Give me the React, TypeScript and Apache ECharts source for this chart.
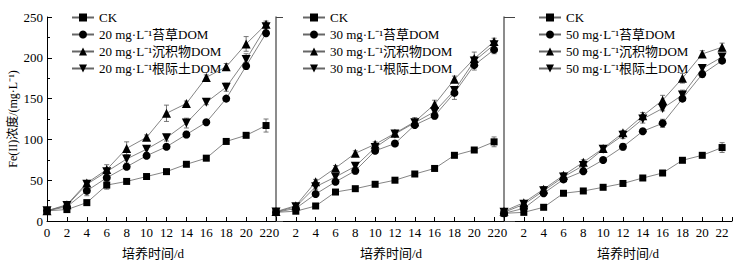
import React, { useEffect, useRef } from "react";
import * as echarts from "echarts";

const days = [0, 2, 4, 6, 8, 10, 12, 14, 16, 18, 20, 22];
const doses = ["20", "30", "50"];
const xAxisTitle = "培养时间/d";
const yAxisTitle = "Fe(II)浓度/(mg·L⁻¹)";
const treatmentNames = ["苔草DOM", "沉积物DOM", "根际土DOM"];

// Panel 1: 20 mg/L
const p1CK = [12.5, 14, 22.5, 44, 48.5, 54.5, 60.5, 69.5, 77, 97.5, 105, 117];
const p1Moss = [12.5, 17.5, 37, 53, 66.5, 80, 91, 106, 121, 150, 190, 230];
const p1Sed = [12.5, 20, 46.5, 63, 89, 102.5, 132, 144, 176, 189, 217, 241];
const p1Rhizo = [12.5, 19, 45, 60.5, 76, 88, 102, 120, 145.5, 164, 198, 238];
// Panel 2: 30 mg/L
const p2CK = [10.6, 12, 18.4, 35.5, 39.6, 45, 50, 57.6, 64.4, 80.5, 87, 97];
const p2Moss = [10.6, 15.5, 33, 48, 61.6, 86, 95, 117.6, 129, 157, 191, 210];
const p2Sed = [11.5, 18.8, 48, 65, 83, 94, 107.5, 121.7, 143, 173.6, 199, 220];
const p2Rhizo = [11, 17.5, 42, 54, 67, 90, 106.6, 120.5, 134, 160, 196, 216];
// Panel 3: 50 mg/L
const p3CK = [9.4, 10.6, 16.8, 34, 36.8, 41.3, 46, 52.7, 58.8, 74.4, 80.5, 90];
const p3Moss = [9.4, 15.5, 34, 51, 61, 74.8, 91, 110, 119.7, 150, 180, 196.5];
const p3Sed = [12, 22.5, 39, 56, 72, 89, 108, 129, 148, 175, 204.7, 213];
const p3Rhizo = [10.6, 20.4, 37, 54, 68, 88, 105, 125, 138, 154.4, 187, 201];

// error bar half-widths
const e1CK = [1, 1, 3, 5, 2, 2, 2, 2, 3, 2, 2, 8];
const e1Moss = [1, 2, 6, 4, 3, 3, 2, 4, 3, 3, 4, 3];
const e1Sed = [1, 2, 3, 6, 8, 3, 10, 3, 3, 4, 9, 4];
const e1Rhizo = [1, 2, 3, 4, 5, 4, 4, 6, 3, 5, 7, 4];
const e2CK = [1, 1, 2, 3, 2, 2, 2, 2, 2, 2, 2, 6];
const e2Moss = [1, 2, 3, 3, 4, 3, 2, 3, 4, 8, 6, 5];
const e2Sed = [1, 2, 3, 3, 3, 3, 3, 5, 5, 4, 8, 4];
const e2Rhizo = [1, 2, 3, 3, 4, 3, 3, 4, 3, 4, 5, 4];
const e3CK = [1, 1, 2, 3, 2, 2, 2, 2, 2, 2, 2, 6];
const e3Moss = [1, 2, 3, 3, 3, 3, 4, 3, 5, 3, 4, 3];
const e3Sed = [1, 2, 3, 3, 3, 3, 3, 4, 6, 6, 4, 5];
const e3Rhizo = [1, 2, 5, 3, 3, 4, 4, 5, 3, 6, 4, 4];

const panelValues = [
  [p1CK, p1Moss, p1Sed, p1Rhizo],
  [p2CK, p2Moss, p2Sed, p2Rhizo],
  [p3CK, p3Moss, p3Sed, p3Rhizo],
];
const panelErrors = [
  [e1CK, e1Moss, e1Sed, e1Rhizo],
  [e2CK, e2Moss, e2Sed, e2Rhizo],
  [e3CK, e3Moss, e3Sed, e3Rhizo],
];

const FONT = "'Liberation Serif', 'Times New Roman', 'Noto Sans CJK SC', serif";
const symbols = ["rect", "circle", "triangle", "path://M0,0 L10,0 L5,8.66 Z"];
const symbolSizes = [7, 8, 9, 9];

const gridsLayout = [
  { left: 47, width: 229 },
  { left: 276, width: 228 },
  { left: 504, width: 228 },
];
const legendLeft = [66, 297, 533];
const xTitleCenters = [152, 390, 627];

function seriesName(p: number, s: number) {
  if (s === 0) return "CK";
  return `${doses[p]} mg·L⁻¹${treatmentNames[s - 1]}`;
}

export default function App() {
  const ref = useRef<HTMLDivElement>(null);
  useEffect(() => {
    if (!ref.current) return;
    const chart = echarts.init(ref.current, undefined, { renderer: "svg" });

    const grid = gridsLayout.map((g) => ({ left: g.left, width: g.width, top: 17, height: 204 }));
    const xAxis = [0, 1, 2].map((i) => ({
      type: "value",
      gridIndex: i,
      min: 0,
      max: 23,
      interval: 2,
      axisLine: { show: true, lineStyle: { color: "#000", width: 1 } },
      axisTick: { show: true, inside: true, length: 4, lineStyle: { color: "#000" } },
      axisLabel: {
        color: "#000",
        fontFamily: FONT,
        fontSize: 13,
        margin: 5,
        formatter: (v: number) => (v === 23 ? "" : String(v)),
      },
      splitLine: { show: false },
    }));
    const yAxis = [0, 1, 2].map((i) =>
      i === 0
        ? {
            type: "value",
            gridIndex: 0,
            min: 0,
            max: 250,
            interval: 50,
            name: yAxisTitle,
            nameLocation: "middle",
            nameGap: 28,
            nameTextStyle: { color: "#000", fontFamily: FONT, fontSize: 12 },
            axisLine: { show: true, lineStyle: { color: "#000", width: 1 } },
            axisTick: { show: true, inside: true, length: 5, lineStyle: { color: "#000" } },
            minorTick: { show: true, splitNumber: 2, length: 3, lineStyle: { color: "#000" } },
            axisLabel: { color: "#000", fontFamily: FONT, fontSize: 13, margin: 4 },
            splitLine: { show: false },
          }
        : {
            type: "value",
            gridIndex: i,
            min: 0,
            max: 250,
            interval: 250,
            axisLine: { show: true, lineStyle: { color: "#666", width: 1.5 } },
            axisTick: { show: true, inside: true, length: i === 1 ? 7 : 11, lineStyle: { color: "#444" } },
            axisLabel: { show: false },
            splitLine: { show: false },
          }
    );

    const series: any[] = [];
    panelValues.forEach((vals, p) => {
      vals.forEach((arr, s) => {
        const errs = panelErrors[p][s];
        series.push({
          type: "custom",
          xAxisIndex: p,
          yAxisIndex: p,
          z: 1,
          silent: true,
          data: days.map((d, k) => [d, arr[k], errs[k]]),
          renderItem: (params: any, api: any) => {
            const x = api.value(0);
            const y = api.value(1);
            const e = api.value(2);
            const top = api.coord([x, y + e]);
            const bot = api.coord([x, y - e]);
            const st = { stroke: "#555", lineWidth: 0.8 };
            return {
              type: "group",
              children: [
                { type: "line", shape: { x1: top[0], y1: top[1], x2: bot[0], y2: bot[1] }, style: st },
                { type: "line", shape: { x1: top[0] - 2.5, y1: top[1], x2: top[0] + 2.5, y2: top[1] }, style: st },
                { type: "line", shape: { x1: bot[0] - 2.5, y1: bot[1], x2: bot[0] + 2.5, y2: bot[1] }, style: st },
              ],
            };
          },
        });
        series.push({
          type: "line",
          name: seriesName(p, s),
          xAxisIndex: p,
          yAxisIndex: p,
          z: 3,
          data: days.map((d, k) => [d, arr[k]]),
          symbol: symbols[s],
          symbolSize: symbolSizes[s],
          showAllSymbol: true,
          lineStyle: { color: "#666", width: 0.8 },
          itemStyle: { color: "#000" },
        });
      });
    });

    const legend = [0, 1, 2].map((p) => ({
      orient: "vertical",
      left: legendLeft[p],
      top: 6,
      itemWidth: 22,
      itemHeight: 10,
      itemGap: 4,
      selectedMode: false,
      textStyle: { color: "#000", fontFamily: FONT, fontSize: 13 },
      data: [0, 1, 2, 3].map((s) => seriesName(p, s)),
    }));

    const graphic = xTitleCenters.map((cx) => ({
      type: "text",
      left: cx - 30,
      top: 247,
      style: { text: xAxisTitle, fill: "#000", font: `13px ${FONT}` },
    }));

    chart.setOption({
      animation: false,
      backgroundColor: "#fff",
      grid,
      xAxis,
      yAxis,
      legend,
      graphic,
      series,
    });
    return () => chart.dispose();
  }, []);
  return <div ref={ref} style={{ position: "fixed", left: 0, top: 0, width: 744, height: 267 }} />;
}
